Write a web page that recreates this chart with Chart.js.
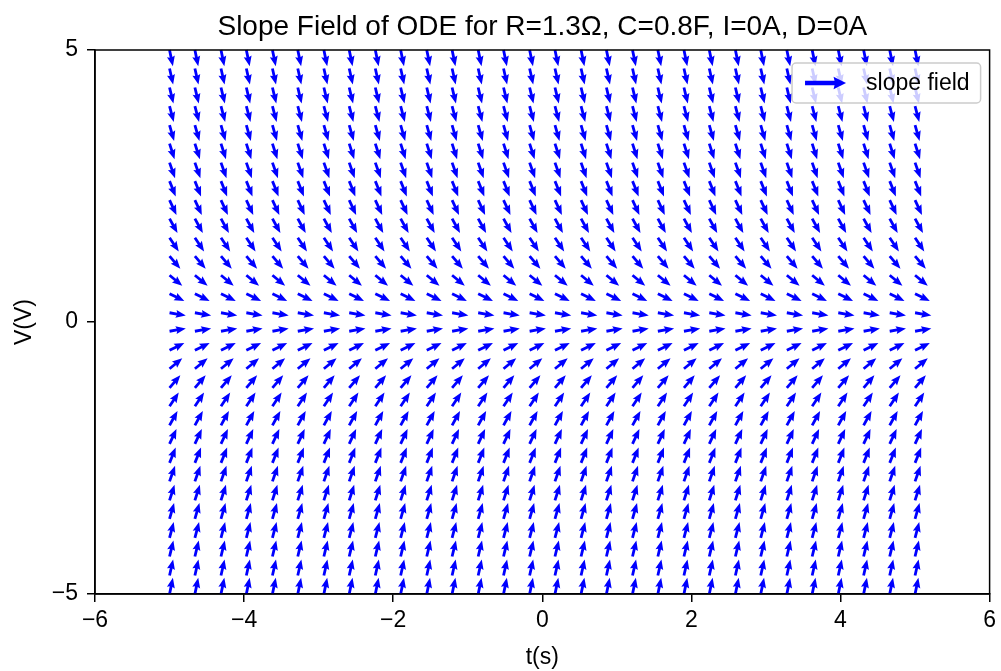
<!DOCTYPE html>
<html>
<head>
<meta charset="utf-8">
<script src="https://cdn.jsdelivr.net/npm/chart.js@4.4.1/dist/chart.umd.min.js"></script>
<style>
  html, body { margin: 0; padding: 0; background: #fff; }
</style>
</head>
<body>
<canvas id="slopeChart" width="1001" height="671"></canvas>
<script>
// grid of sample points: time (s) and voltage (V)
const tValues = [-5.00, -4.66, -4.31, -3.97, -3.62, -3.28, -2.93, -2.59, -2.24, -1.90,
                 -1.55, -1.21, -0.86, -0.52, -0.17, 0.17, 0.52, 0.86, 1.21, 1.55,
                 1.90, 2.24, 2.59, 2.93, 3.28, 3.62, 3.97, 4.31, 4.66, 5.00];
const vValues = [-5.00, -4.66, -4.31, -3.97, -3.62, -3.28, -2.93, -2.59, -2.24, -1.90,
                 -1.55, -1.21, -0.86, -0.52, -0.17, 0.17, 0.52, 0.86, 1.21, 1.55,
                 1.90, 2.24, 2.59, 2.93, 3.28, 3.62, 3.97, 4.31, 4.66, 5.00];
// dV/dt on each voltage row (same for every t)
const slopeValues = [4.81, 4.48, 4.14, 3.81, 3.48, 3.15, 2.82, 2.49, 2.16, 1.82,
                     1.49, 1.16, 0.83, 0.50, 0.17, -0.17, -0.50, -0.83, -1.16, -1.49,
                     -1.82, -2.16, -2.49, -2.82, -3.15, -3.48, -3.81, -4.14, -4.48, -4.81];
const xTicks = [-6, -4, -2, 0, 2, 4, 6];
const yTicks = [-5, 0, 5];

const FONT = 'Liberation Sans, Arial, Helvetica, sans-serif';
const BLUE = '#0000ff';
const TITLE = 'Slope Field of ODE for R=1.3\u03A9, C=0.8F, I=0A, D=0A';

// quiver style arrow with its tail at (x, y), pointing along angle (radians, canvas coords)
function drawArrow(ctx, x, y, ang, len, w, headLen, headAxis, headW) {
    ctx.save();
    ctx.translate(x, y);
    ctx.rotate(ang);
    ctx.beginPath();
    ctx.moveTo(0, -w / 2);
    ctx.lineTo(len - headAxis, -w / 2);
    ctx.lineTo(len - headLen, -headW / 2);
    ctx.lineTo(len, 0);
    ctx.lineTo(len - headLen, headW / 2);
    ctx.lineTo(len - headAxis, w / 2);
    ctx.lineTo(0, w / 2);
    ctx.closePath();
    ctx.fill();
    ctx.restore();
}

const points = [];
vValues.forEach((v, i) => {
    tValues.forEach(t => {
        points.push({ x: t, y: v, s: slopeValues[i] });
    });
});

const minus = v => String(v).replace('-', '\u2212');

// arrows placed on the pixel positions the scatter elements got from the scales
const quiverPlugin = {
    id: 'quiver',
    afterDatasetsDraw(chart) {
        const { ctx } = chart;
        const meta = chart.getDatasetMeta(0);
        const data = chart.data.datasets[0].data;
        ctx.save();
        ctx.fillStyle = BLUE;
        meta.data.forEach((el, i) => {
            const ang = -Math.atan(data[i].s);
            drawArrow(ctx, el.x, el.y, ang, 16.5, 2.8, 10, 9, 8);
        });
        // frame round the plot
        const a = chart.chartArea;
        ctx.strokeStyle = '#000';
        ctx.lineWidth = 1.5;
        ctx.strokeRect(a.left, a.top, a.right - a.left, a.bottom - a.top);
        ctx.restore();
    }
};

// title centred on the plot area, legend box top right
const decorPlugin = {
    id: 'decor',
    afterDraw(chart) {
        const { ctx, chartArea: a } = chart;
        ctx.save();
        ctx.fillStyle = '#000';
        ctx.font = '28px ' + FONT;
        ctx.textAlign = 'center';
        ctx.textBaseline = 'alphabetic';
        ctx.fillText(TITLE, (a.left + a.right) / 2, 35);

        const label = chart.data.datasets[0].label;
        ctx.font = '23px ' + FONT;
        const tw = ctx.measureText(label).width;
        const h = 40;
        const w = 13 + 41 + 20 + tw + 11;
        const x = a.right - 9 - w;
        const y = a.top + 13;
        ctx.beginPath();
        ctx.roundRect(x, y, w, h, 4);
        ctx.fillStyle = 'rgba(255,255,255,0.8)';
        ctx.fill();
        ctx.strokeStyle = '#cccccc';
        ctx.lineWidth = 1.5;
        ctx.stroke();

        ctx.fillStyle = BLUE;
        drawArrow(ctx, x + 13, y + h / 2, 0, 41, 4.5, 12.5, 11.5, 12.5);

        ctx.fillStyle = '#000';
        ctx.textBaseline = 'middle';
        ctx.textAlign = 'left';
        ctx.fillText(label, x + 13 + 41 + 20, y + h / 2 + 1);
        ctx.restore();
    }
};

new Chart(document.getElementById('slopeChart'), {
    type: 'scatter',
    data: {
        datasets: [{
            label: 'slope field',
            data: points,
            pointRadius: 0,
            pointHoverRadius: 0,
            clip: false
        }]
    },
    options: {
        responsive: false,
        animation: false,
        devicePixelRatio: 1,
        events: [],
        layout: { padding: { left: 0, right: 11, top: 50, bottom: 0 } },
        plugins: {
            legend: { display: false },
            tooltip: { enabled: false },
            title: { display: false }
        },
        scales: {
            x: {
                type: 'linear',
                min: -6,
                max: 6,
                afterBuildTicks: s => { s.ticks = xTicks.map(v => ({ value: v })); },
                afterFit: s => { s.height = 77; },
                ticks: {
                    callback: minus,
                    color: '#000',
                    font: { family: FONT, size: 23 },
                    padding: 5,
                    maxRotation: 0,
                    autoSkip: false
                },
                grid: { drawOnChartArea: false, drawTicks: true, tickLength: 8, color: '#000', lineWidth: 1.5 },
                border: { color: '#000', width: 1.5 },
                title: {
                    display: true,
                    text: 't(s)',
                    color: '#000',
                    font: { family: FONT, size: 23 },
                    padding: { top: 0, bottom: 0 }
                }
            },
            y: {
                type: 'linear',
                min: -5,
                max: 5,
                afterBuildTicks: s => { s.ticks = yTicks.map(v => ({ value: v })); },
                afterFit: s => { s.width = 95; },
                ticks: {
                    callback: minus,
                    color: '#000',
                    font: { family: FONT, size: 23 },
                    padding: 9,
                    autoSkip: false
                },
                grid: { drawOnChartArea: false, drawTicks: true, tickLength: 8, color: '#000', lineWidth: 1.5 },
                border: { color: '#000', width: 1.5 },
                title: {
                    display: true,
                    text: 'V(V)',
                    color: '#000',
                    font: { family: FONT, size: 23 },
                    padding: { top: 11, bottom: 0 }
                }
            }
        }
    },
    plugins: [quiverPlugin, decorPlugin]
});
</script>
</body>
</html>
